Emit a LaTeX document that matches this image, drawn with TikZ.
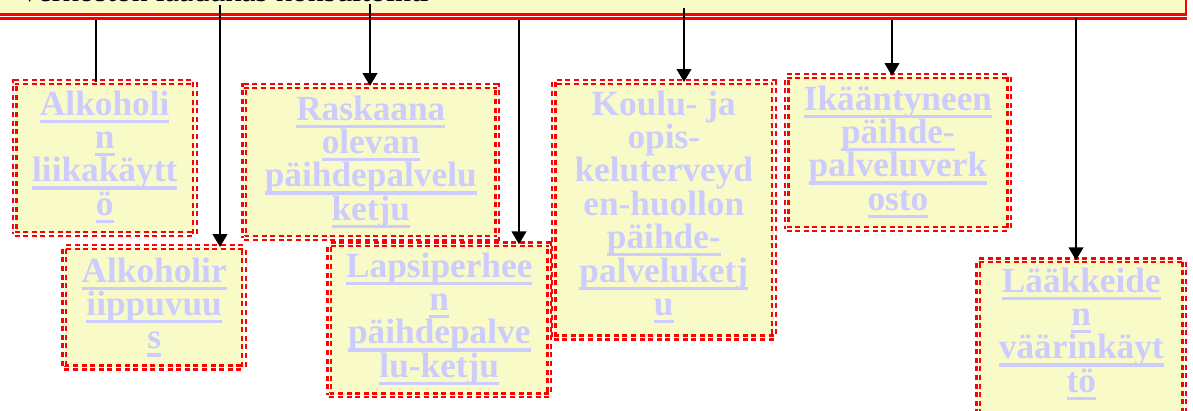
\documentclass[tikz,border=0pt]{standalone}
\usepackage{fontspec}
\setmainfont{Liberation Serif}
\usetikzlibrary{arrows.meta}
\definecolor{boxfill}{RGB}{248,250,200}
\definecolor{lav}{RGB}{204,204,255}
\newcommand\ull[1]{\setbox0=\hbox{#1}\rlap{\rule[-7.7pt]{\wd0}{3.2pt}}\box0\rule[-8pt]{0pt}{33.4pt}}
\newcommand\pll[1]{#1\rule[-8pt]{0pt}{33.4pt}}
\begin{document}
\begin{tikzpicture}[x=1pt,y=-1pt,
  box/.style={draw=red, double=white, double distance=1.6pt, line width=2.3pt,
    dash pattern=on 5pt off 3.6pt, fill=boxfill, inner sep=0pt, outer sep=0pt, anchor=north west},
  txt/.style={align=center, text=lav, font=\bfseries\fontsize{35.3}{33.4}\selectfont,
    inner sep=0pt, outer sep=0pt, anchor=north},
  conn/.style={draw=black, line width=2.6pt},
  arr/.style={conn, -{Triangle[width=14.5pt,length=13pt]}}]
\useasboundingbox (0,0) rectangle (1193,410);
% top bar
\node[draw=red, line width=2.6pt, fill=boxfill, minimum width=1210pt, minimum height=120pt,
  inner sep=0pt, outer sep=0pt, anchor=south east] (bar) at (1186,14.5) {};
\draw[red, line width=2.4pt] ([yshift=-3.8pt]bar.south west) -- ([yshift=-3.8pt,xshift=1.2pt]bar.south east);
\node[anchor=base west, inner sep=0pt, font=\fontsize{32}{36}\selectfont] (title) at (18,1.3) {Verkoston laadukas konsultointi};
% boxes
\node[box, minimum width=180.2pt, minimum height=151.7pt] (A) at (14.6,82.2) {};
\node[box, minimum width=179.7pt, minimum height=120.4pt] (B) at (64.3,247) {};
\node[box, minimum width=253pt, minimum height=152pt] (C) at (244.3,86) {};
\node[box, minimum width=220pt, minimum height=151pt] (D) at (329.3,244.3) {};
\node[box, minimum width=220.4pt, minimum height=255.4pt] (E) at (553.6,82) {};
\node[box, minimum width=222.7pt, minimum height=153pt] (F) at (786.6,76) {};
\node[box, minimum width=206pt, minimum height=170pt] (G) at (978.3,260.3) {};
% texts
\node[txt] (tA) at (A.north |- 0,89.6) {\ull{Alkoholi}\\\ull{n}\\\ull{liikakäytt}\\\ull{ö}};
\node[txt] (tB) at (B.north |- 0,256.6) {\ull{Alkoholir}\\\ull{iippuvuu}\\\ull{s}};
\node[txt] (tC) at (C.north |- 0,94.6) {\ull{Raskaana}\\\ull{olevan}\\\ull{päihdepalvelu}\\\ull{ketju}};
\node[txt] (tD) at (D.north |- 0,251.6) {\ull{Lapsiperhee}\\\ull{n}\\\ull{päihdepalve}\\\ull{lu-ketju}};
\node[txt] (tE) at (E.north |- 0,89.6) {\pll{Koulu- ja}\\\pll{opis-}\\\pll{keluterveyd}\\\pll{en-huollon}\\\ull{päihde-}\\\ull{palveluketj}\\\ull{u}};
\node[txt] (tF) at (F.north |- 0,84.6) {\ull{Ikääntyneen}\\\ull{päihde-}\\\ull{palveluverk}\\\ull{osto}};
\node[txt] (tG) at (G.north |- 0,266.6) {\ull{Lääkkeide}\\\ull{n}\\\ull{väärinkäyt}\\\ull{tö}};
% connectors
\coordinate (c1) at (96,20);
\coordinate (c2) at (220,5);
\coordinate (c3) at (370,4);
\coordinate (c4) at (519,20);
\coordinate (c5) at (684,8);
\coordinate (c6) at (892,20);
\coordinate (c7) at (1076,18);
\draw[conn] (c1) -- (c1 |- A.north);
\draw[arr] (c2) -- (c2 |- B.north);
\draw[arr] (c3) -- (c3 |- C.north);
\draw[arr] (c4) -- (c4 |- D.north);
\draw[arr] (c5) -- (c5 |- E.north);
\draw[arr] (c6) -- (c6 |- F.north);
\draw[arr] (c7) -- (c7 |- G.north);
\end{tikzpicture}
\end{document}
